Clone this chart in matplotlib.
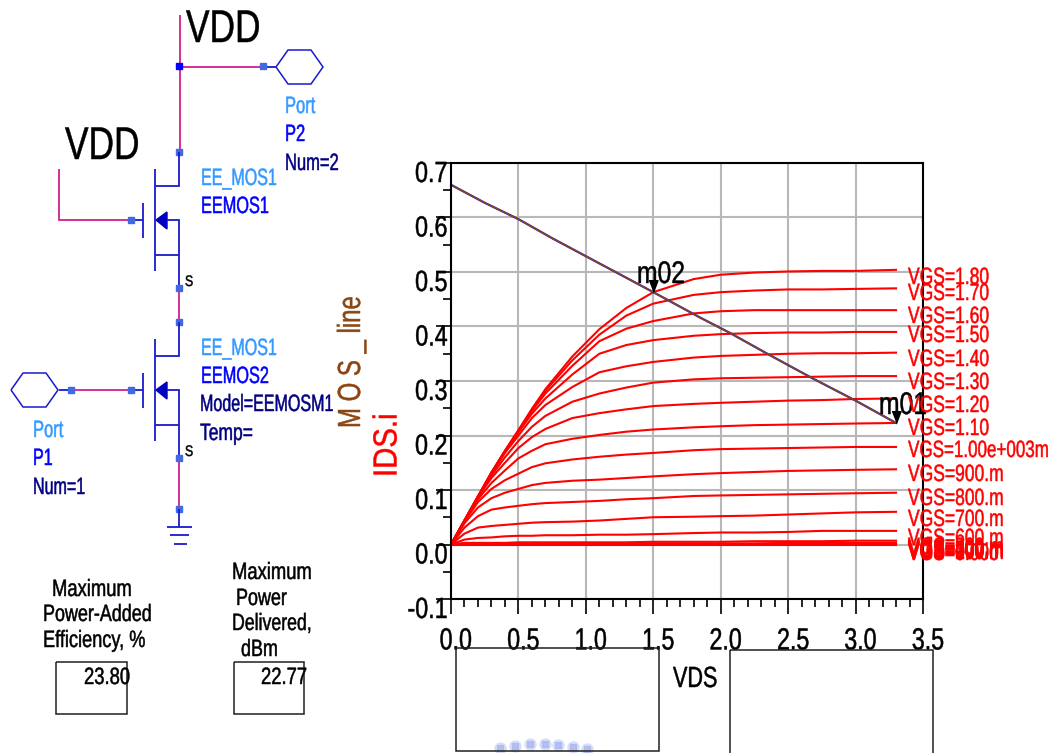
import matplotlib
matplotlib.use("Agg")
import matplotlib.pyplot as plt
from matplotlib.patheffects import AbstractPathEffect
from matplotlib.transforms import Affine2D, ScaledTranslation

plt.rcParams["font.family"] = ["Liberation Sans", "DejaVu Sans"]

##
# Data
##
vds = [0, 0.1, 0.2, 0.3, 0.4, 0.5, 0.6, 0.7, 0.9, 1.1, 1.3, 1.5, 1.8, 2.0, 2.25, 2.5, 2.75, 3.0, 3.3]

ids_000 = [0, 0, 0, 0, 0, 0, 0, 0, 0, 0, 0, 0, 0, 0, 0, 0, 0, 0, 0]
ids_300 = [0, 0.001, 0.001, 0.001, 0.001, 0.001, 0.001, 0.001, 0.001, 0.001, 0.001, 0.001, 0.001, 0.001, 0.001, 0.001, 0.001, 0.001, 0.001]
ids_400 = [0, 0.001, 0.002, 0.002, 0.002, 0.002, 0.002, 0.002, 0.002, 0.002, 0.002, 0.002, 0.002, 0.002, 0.002, 0.003, 0.003, 0.003, 0.003]
ids_500 = [0, 0.003, 0.003, 0.003, 0.003, 0.004, 0.004, 0.004, 0.004, 0.004, 0.004, 0.005, 0.005, 0.005, 0.006, 0.006, 0.006, 0.007, 0.007]
ids_600 = [0, 0.009, 0.012, 0.013, 0.015, 0.016, 0.016, 0.017, 0.017, 0.018, 0.018, 0.019, 0.021, 0.022, 0.022, 0.023, 0.025, 0.025, 0.025]
ids_700 = [0, 0.02, 0.031, 0.034, 0.036, 0.038, 0.04, 0.041, 0.042, 0.044, 0.047, 0.05, 0.051, 0.052, 0.053, 0.055, 0.057, 0.059, 0.06]
ids_800 = [0, 0.031, 0.052, 0.064, 0.068, 0.071, 0.074, 0.076, 0.078, 0.08, 0.083, 0.085, 0.089, 0.09, 0.091, 0.092, 0.093, 0.094, 0.095]
ids_900 = [0, 0.039, 0.068, 0.085, 0.095, 0.102, 0.109, 0.113, 0.117, 0.119, 0.122, 0.125, 0.129, 0.131, 0.133, 0.135, 0.136, 0.137, 0.138]
ids_1000 = [0, 0.042, 0.078, 0.102, 0.118, 0.13, 0.142, 0.149, 0.156, 0.161, 0.165, 0.168, 0.173, 0.175, 0.176, 0.177, 0.178, 0.179, 0.179]
ids_1100 = [0, 0.043, 0.083, 0.113, 0.136, 0.158, 0.172, 0.184, 0.194, 0.201, 0.207, 0.211, 0.215, 0.217, 0.219, 0.22, 0.221, 0.222, 0.223]
ids_1200 = [0, 0.044, 0.087, 0.122, 0.15, 0.177, 0.197, 0.212, 0.232, 0.241, 0.248, 0.254, 0.258, 0.26, 0.262, 0.264, 0.265, 0.267, 0.268]
ids_1300 = [0, 0.044, 0.088, 0.126, 0.16, 0.19, 0.216, 0.236, 0.262, 0.277, 0.288, 0.297, 0.303, 0.305, 0.306, 0.307, 0.308, 0.309, 0.309]
ids_1400 = [0, 0.044, 0.088, 0.13, 0.168, 0.2, 0.232, 0.256, 0.289, 0.316, 0.327, 0.335, 0.343, 0.346, 0.348, 0.35, 0.351, 0.351, 0.352]
ids_1500 = [0, 0.044, 0.088, 0.132, 0.17, 0.206, 0.24, 0.268, 0.312, 0.35, 0.366, 0.375, 0.383, 0.386, 0.388, 0.389, 0.389, 0.39, 0.39]
ids_1600 = [0, 0.044, 0.088, 0.132, 0.171, 0.208, 0.245, 0.277, 0.328, 0.373, 0.396, 0.41, 0.424, 0.428, 0.43, 0.43, 0.43, 0.43, 0.43]
ids_1700 = [0, 0.044, 0.088, 0.132, 0.172, 0.209, 0.247, 0.282, 0.338, 0.385, 0.42, 0.442, 0.458, 0.463, 0.466, 0.468, 0.468, 0.469, 0.47]
ids_1800 = [0, 0.044, 0.088, 0.132, 0.172, 0.21, 0.249, 0.285, 0.345, 0.395, 0.434, 0.463, 0.487, 0.495, 0.499, 0.501, 0.502, 0.502, 0.504]

all_curves = [ids_000, ids_300, ids_400, ids_500, ids_600, ids_700, ids_800, ids_900, ids_1000,
              ids_1100, ids_1200, ids_1300, ids_1400, ids_1500, ids_1600, ids_1700, ids_1800]

load_x = [0, 0.25, 0.5, 0.75, 1.0, 1.25, 1.5, 1.85, 2.07, 2.36, 2.68, 3.0, 3.3]
load_y = [0.66, 0.627, 0.597, 0.562, 0.529, 0.496, 0.463, 0.416, 0.388, 0.348, 0.305, 0.264, 0.223]

marker_x = [1.5, 3.3]
marker_y = [0.463, 0.223]

vgs_labels = ["VGS=1.80", "VGS=1.70", "VGS=1.60", "VGS=1.50", "VGS=1.40", "VGS=1.30", "VGS=1.20",
              "VGS=1.10", "VGS=900.m", "VGS=800.m", "VGS=700.m", "VGS=600.m",
              "VGS=500.m", "VGS=400.m", "VGS=300.m", "VGS=200.m", "VGS=100.m", "VGS=0.000"]
vgs_label_px = [276, 292, 315, 334, 358, 381, 404, 427, 473, 497, 518, 537, 546, 548, 549, 550, 551, 552]

x_ticks = [0.0, 0.5, 1.0, 1.5, 2.0, 2.5, 3.0, 3.5]
y_ticks = [-0.1, 0.0, 0.1, 0.2, 0.3, 0.4, 0.5, 0.6, 0.7]

W, H = 1053, 753
PINK = "#d02090"
WIRE = "#1a1acc"
NODE = "#4169e1"
LIGHT = "#3399ff"
NAVY = "#000080"


class Squeeze(AbstractPathEffect):
    # the picture's lettering is much narrower and heavier than any installed font
    def __init__(self, sx, anchor=0.0, stroke=0.35):
        super().__init__()
        self.sx = sx
        self.anchor = anchor
        self.stroke = stroke

    def draw_path(self, renderer, gc, tpath, affine, rgbFace=None):
        a = self.anchor * tpath.get_extents().x1
        squeeze = Affine2D().translate(-a, 0).scale(self.sx, 1).translate(a, 0)
        gc0 = renderer.new_gc()
        gc0.copy_properties(gc)
        gc0.set_linewidth(self.stroke)
        gc0.set_foreground(rgbFace)
        renderer.draw_path(gc0, tpath, squeeze + affine, rgbFace)
        gc0.restore()


fig = plt.figure(figsize=(W / 100, H / 100), dpi=100)

##
# IV chart
##
ax = fig.add_axes([451 / W, 1 - 599 / H, (923 - 451) / W, (599 - 163) / H])
ax.set_xlim(0, 3.5)
ax.set_ylim(-0.1, 0.7)
ax.set_xticks(x_ticks)
ax.set_yticks(y_ticks)
ax.set_xticklabels(["%.1f" % v for v in x_ticks], fontsize=22)
ax.set_yticklabels(["%.1f" % v for v in y_ticks], fontsize=21)
ax.set_xticks([i * 0.1 for i in range(35)], minor=True)
ax.set_yticks([-0.05 + i * 0.1 for i in range(8)], minor=True)
ax.grid(True, which="major", color="#b8b8b8", linewidth=1.5)
ax.set_axisbelow(True)
ax.tick_params(which="major", length=11, width=1.2, pad=3)
ax.tick_params(which="minor", length=6, width=1.2)
for s in ax.spines.values():
    s.set_linewidth(1.5)
    s.set_zorder(5)
for lab in ax.get_xticklabels():
    lab.set_transform(lab.get_transform() + ScaledTranslation(5 / 100, -8 / 100, fig.dpi_scale_trans))
    lab.set_path_effects([Squeeze(0.76, 0.5)])
for lab in ax.get_yticklabels():
    lab.set_transform(lab.get_transform() + ScaledTranslation(16 / 100, -8 / 100, fig.dpi_scale_trans))
    lab.set_path_effects([Squeeze(0.8, 1.0)])

for curve in all_curves:
    ax.plot(vds, curve, color="red", linewidth=1.5, zorder=3)
ax.plot(load_x, load_y, color="#2020d0", linewidth=1.6, zorder=4)
ax.plot(load_x, load_y, color="#8b4513", linewidth=1.1, zorder=4)
arrow = [(-0.38, 1), (0.38, 1), (0, 0)]
ax.plot(marker_x, marker_y, linestyle="none", marker=arrow, color="black", markersize=17, zorder=6, clip_on=False)

##
# Schematic and labels, in pixel coordinates over the whole figure
##
sc = fig.add_axes([0, 0, 1, 1], zorder=3)
sc.set_xlim(0, W)
sc.set_ylim(H, 0)
sc.axis("off")


def wire(xs, ys, color=WIRE, lw=1.3):
    sc.plot(xs, ys, color=color, linewidth=lw, solid_capstyle="butt", solid_joinstyle="miter")


def node(x, y, color=NODE):
    sc.plot([x], [y], marker="s", color=color, markersize=4.5)


def label(x, y, s, color="black", size=17, sx=0.7):
    t = sc.text(x, y + 1, s, color=color, fontsize=size, ha="left", va="center")
    t.set_path_effects([Squeeze(sx)])
    return t


def mosfet(top):
    wire([179, 179, 155], [top - 34, top, top])
    wire([155, 155], [top - 17, top + 85])
    wire([143, 143], [top + 17, top + 52])
    wire([167, 179, 179], [top + 34, top + 34, top + 102])
    wire([155, 179], [top + 69, top + 69])
    sc.fill([156, 167, 167], [top + 34, top + 26, top + 43], color="#0000c0")
    label(185, top + 95, "S", size=11, sx=0.8)


def port(x, y):
    xs = [x, x + 12, x + 35, x + 47, x + 35, x + 12, x]
    ys = [y, y - 17, y - 17, y, y + 17, y + 17, y]
    wire(xs, ys, lw=1.1)


# supply and ports
wire([179.5, 179.5], [15, 152], PINK)
wire([179, 263], [67, 67], PINK)
wire([263, 276], [67, 67])
port(276, 67)
node(179, 66, "#0000ff")
node(263, 66)
node(179, 152)
mosfet(186)
wire([59, 59, 131], [169, 220, 220], PINK)
wire([131, 143], [220, 220])
node(131, 220)
wire([179, 179], [288, 322], PINK)
node(179, 288)
node(179, 322)
mosfet(356)
port(11, 390)
wire([59, 71], [390, 390])
wire([71, 131], [390, 390], PINK)
wire([131, 143], [390, 390])
node(71, 390)
node(131, 390)
wire([179, 179], [458, 509], PINK)
node(179, 458)
node(179, 509)
wire([179, 179], [509, 527])
wire([167, 192], [527, 527])
wire([170, 189], [535, 535])
wire([174, 187], [544, 544])

label(186, 29, "VDD", size=33, sx=0.77)
label(65, 146, "VDD", size=33, sx=0.77)
label(285, 106, "Port", LIGHT)
label(285, 134, "P2", "#0000ff")
label(285, 163, "Num=2", NAVY)
label(201, 178, "EE_MOS1", LIGHT, sx=0.68)
label(201, 206, "EEMOS1", "#0000ff", sx=0.69)
label(201, 348, "EE_MOS1", LIGHT, sx=0.68)
label(201, 376, "EEMOS2", "#0000ff", sx=0.69)
label(200, 404, "Model=EEMOSM1", NAVY, sx=0.68)
label(200, 433, "Temp=", NAVY, sx=0.74)
label(33, 430, "Port", LIGHT)
label(33, 458, "P1", "#0000ff", sx=0.68)
label(33, 487, "Num=1", NAVY, sx=0.68)

# result tables
label(52, 589, "Maximum", sx=0.78)
label(43, 614, "Power-Added", sx=0.76)
label(43, 640, "Efficiency, %", sx=0.77)
label(84, 677, "23.80", sx=0.78)
label(232, 572, "Maximum", sx=0.78)
label(236, 598, "Power", sx=0.76)
label(232, 623, "Delivered,", sx=0.75)
label(241, 649, "dBm", sx=0.76)
label(261, 677, "22.77", sx=0.78)
for x0, x1, y0, y1 in [(56, 127, 662, 714), (234, 304, 662, 714), (456, 659, 648, 751), (730, 933, 650, 760)]:
    wire([x0, x1, x1, x0, x0], [y0, y0, y1, y1, y0], "#202020", 1.1)

# faint logo cut off by the lower edge
logo_x = [500, 515, 530, 545, 558, 573, 587]
logo_y = [748, 746, 744, 744, 745, 747, 749]
sc.plot(logo_x, logo_y, linestyle="none", marker="o", markersize=8, color="#d4dafa", alpha=0.8, zorder=1)
sc.plot(logo_x, logo_y, linestyle="none", marker="s", markersize=4, color="#aab8f0", alpha=0.8, zorder=1)

# chart texts
t = sc.text(352, 428, "M O S _ line", color="#8b4513", fontsize=23, rotation=90, ha="center", va="bottom")
t.set_path_effects([Squeeze(0.75)])
t = sc.text(388, 477, "IDS.i", color="red", fontsize=24, rotation=90, ha="center", va="bottom")
t.set_path_effects([Squeeze(0.88)])
label(673, 678, "VDS", size=21, sx=0.74)
label(637, 274, "m02", size=22.5, sx=0.79)
label(879, 405, "m01", size=22.5, sx=0.79)
for text, y_px in zip(vgs_labels, vgs_label_px):
    label(908, y_px + 1, text, "red", sx=0.74)
# the long label is anchored at its right end so that it stays inside the figure
t = sc.text(1049, 451, "VGS=1.00e+003m", color="red", fontsize=17, ha="right", va="center")
t.set_path_effects([Squeeze(0.72, 1.0)])

fig.savefig("out.png", dpi=100)
